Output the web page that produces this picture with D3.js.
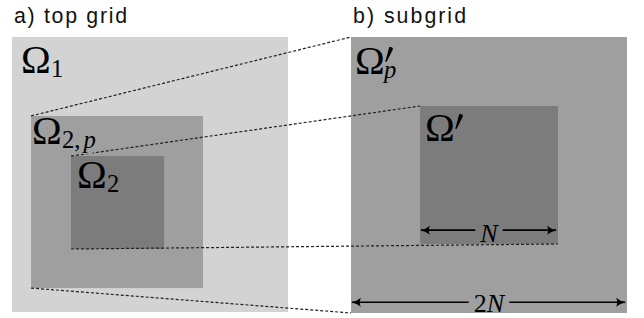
<!DOCTYPE html>
<html>
<head>
<meta charset="utf-8">
<script src="https://cdn.jsdelivr.net/npm/d3@7"></script>
<style>
  body { margin: 0; background: #fff; }
  svg { display: block; }
</style>
</head>
<body>
<div id="plot"></div>
<script>
// Panel titles
const panelTitles = ["a) top grid", "b) subgrid"];

// Boxes, extents as fraction of the panel (0..1)
const boxPanel = [0, 0, 0, 1, 1];
const boxX0 = [0, 0.069, 0.214, 0, 0.25];
const boxX1 = [1, 0.692, 0.551, 1, 0.75];
const boxY0 = [0, 0.287, 0.433, 0, 0.25];
const boxY1 = [1, 0.913, 0.771, 1, 0.75];

// Labels: prime and subscript on each Omega
const labelPrime = [false, false, false, true, true];
const labelSub = ["1", "2,p", "2", "p", ""];

// Dashed links between box corners [fromBox, corner, toBox, corner]
const links = [
    [1, "tl", 3, "tl"],
    [1, "bl", 3, "bl"],
    [2, "tl", 4, "tl"],
    [2, "bl", 4, "br"]
];

// Size arrows: box, label
const dimBox = [4, 3];
const dimLabel = ["N", "2N"];

// ---- layout / styles ----
const width = 644, height = 318;
const boxFill = ["#d3d3d3", "#9f9f9f", "#7c7c7c", "#9f9f9f", "#7c7c7c"];
const labelOff = [[11, 36], [3, 28], [8, 32], [6, 37], [7, 35]];  // ink left / baseline
const dimPos = [0.9, 0.961];   // arrow height as fraction of the box
const dimBase = [12, 10];
const titleX = [14, 353];
const sansFont = "'Liberation Sans', Arial, Helvetica, sans-serif";
const serifFont = "'Liberation Serif', 'Times New Roman', 'DejaVu Serif', serif";

// canvas for measuring glyph ink
const ctx = document.createElement("canvas").getContext("2d");
function ink(txt, size, style, fam) {
    ctx.font = (style || "") + " " + size + "px " + (fam || serifFont);
    const m = ctx.measureText(txt);
    return {l: m.actualBoundingBoxLeft, r: m.actualBoundingBoxRight,
            a: m.actualBoundingBoxAscent, d: m.actualBoundingBoxDescent, w: m.width};
}
const omegaSize = 40 * 26 / ink("Ω", 40).a;
const subSize = 40 * 16 / ink("1", 40).a;
const dimSize = 40 * 17 / ink("N", 40, "italic").a;
const titleSize = 40 * 16 / ink("d", 40, "", sansFont).a;

d3.select("#plot")
    .append("svg")
    .attr("width", width)
    .attr("height", height);

const svg = d3.select("svg");

const xs = [
    d3.scaleLinear().domain([0, 1]).range([12, 288]),
    d3.scaleLinear().domain([0, 1]).range([351, 627])
];
const ys = [
    d3.scaleLinear().domain([0, 1]).range([37, 312]),
    d3.scaleLinear().domain([0, 1]).range([37, 313])
];

const boxes = boxPanel.map((p, i) => ({
    x0: xs[p](boxX0[i]), x1: xs[p](boxX1[i]),
    y0: ys[p](boxY0[i]), y1: ys[p](boxY1[i]),
    fill: boxFill[i]
}));

function corner(b, c) {
    return [c[1] == "l" ? b.x0 : b.x1, c[0] == "t" ? b.y0 : b.y1];
}

// arrow marker
svg.append("defs").append("marker")
    .attr("id", "head")
    .attr("viewBox", "-10 -5 12 10")
    .attr("markerWidth", 12)
    .attr("markerHeight", 10)
    .attr("markerUnits", "userSpaceOnUse")
    .attr("orient", "auto-start-reverse")
    .append("path")
    .attr("d", "M-9,-4.5 Q-5,-1 1,0 Q-5,1 -9,4.5 Q-6.5,0 -9,-4.5 Z")
    .attr("fill", "#000");

// titles
svg.selectAll("text.title").data(panelTitles).enter().append("text")
    .attr("class", "title")
    .attr("x", (d, i) => titleX[i])
    .attr("y", 23)
    .style("font-family", sansFont)
    .style("font-size", titleSize + "px")
    .attr("textLength", 113)
    .attr("lengthAdjust", "spacing")
    .attr("fill", "#111")
    .text(d => d);

// boxes
svg.selectAll("rect.box").data(boxes).enter().append("rect")
    .attr("class", "box")
    .attr("x", d => d.x0)
    .attr("y", d => d.y0)
    .attr("width", d => d.x1 - d.x0)
    .attr("height", d => d.y1 - d.y0)
    .attr("fill", d => d.fill);

// dashed links
svg.selectAll("line.link").data(links).enter().append("line")
    .attr("class", "link")
    .attr("x1", d => corner(boxes[d[0]], d[1])[0])
    .attr("y1", d => corner(boxes[d[0]], d[1])[1])
    .attr("x2", d => corner(boxes[d[2]], d[3])[0])
    .attr("y2", d => corner(boxes[d[2]], d[3])[1])
    .attr("stroke", "#222")
    .attr("stroke-width", 1.2)
    .attr("stroke-dasharray", "3,2");

// labels (with a fill behind them, like tikz nodes)
boxes.forEach((b, i) => {
    const g = svg.append("g");
    const om = ink("Ω", omegaSize);
    const left = b.x0 + labelOff[i][0], by = b.y0 + labelOff[i][1];
    const bx = left + om.l;
    g.append("text")
        .attr("x", bx).attr("y", by)
        .style("font-family", serifFont)
        .style("font-size", omegaSize + "px")
        .text("Ω");
    const right = bx + om.r;
    let x0 = left, x1 = right, y0 = by - om.a, y1 = by;
    if (labelPrime[i]) {
        const px = right + 2, py = by - om.a - 1;
        g.append("path")
            .attr("transform", `translate(${px},${py})`)
            .attr("d", "M4.2,0.2 C6,-0.6 8.6,0.6 7.8,2.6 L1.8,14.6 C1.4,15.2 0.2,14.9 0.4,14.2 Z")
            .attr("fill", "#000");
        x1 = px + 9;
    }
    if (labelSub[i]) {
        const sx = right + (labelPrime[i] ? 1 : 2);
        const sy = by + 4;
        const s = g.append("text")
            .attr("x", sx).attr("y", sy)
            .style("font-family", serifFont)
            .style("font-size", subSize + "px");
        labelSub[i].split("").forEach(ch => {
            const it = /[a-z]/i.test(ch);
            s.append("tspan")
                .attr("dx", it && labelSub[i].length > 1 ? 3 : 0)
                .style("font-style", it ? "italic" : "normal")
                .text(ch);
        });
        x1 = Math.max(x1, sx + s.node().getComputedTextLength());
        y1 = sy + 6;
    }
    const rx0 = Math.max(x0, b.x0), rx1 = Math.min(x1, b.x1);
    const ry0 = Math.max(y0, b.y0), ry1 = Math.min(y1, b.y1);
    g.insert("rect", ":first-child")
        .attr("x", rx0).attr("y", ry0)
        .attr("width", rx1 - rx0).attr("height", ry1 - ry0)
        .attr("fill", b.fill);
});

// size arrows
dimBox.forEach((k, i) => {
    const b = boxes[k];
    const yA = b.y0 + dimPos[i] * (b.y1 - b.y0);
    const mid = (b.x0 + b.x1) / 2;
    const t = svg.append("text")
        .attr("x", mid).attr("y", yA + dimBase[i])
        .attr("text-anchor", "middle")
        .style("font-family", serifFont)
        .style("font-size", dimSize + "px");
    dimLabel[i].split("").forEach(ch => {
        t.append("tspan")
            .style("font-style", /[a-z]/i.test(ch) ? "italic" : "normal")
            .text(ch);
    });
    const half = t.node().getComputedTextLength() / 2 + 5;
    [[mid - half, b.x0 + 1], [mid + half, b.x1 - 2]].forEach(seg => {
        svg.append("line")
            .attr("x1", seg[0]).attr("y1", yA)
            .attr("x2", seg[1]).attr("y2", yA)
            .attr("stroke", "#000")
            .attr("stroke-width", 1.7)
            .attr("marker-end", "url(#head)");
    });
});
</script>
</body>
</html>
